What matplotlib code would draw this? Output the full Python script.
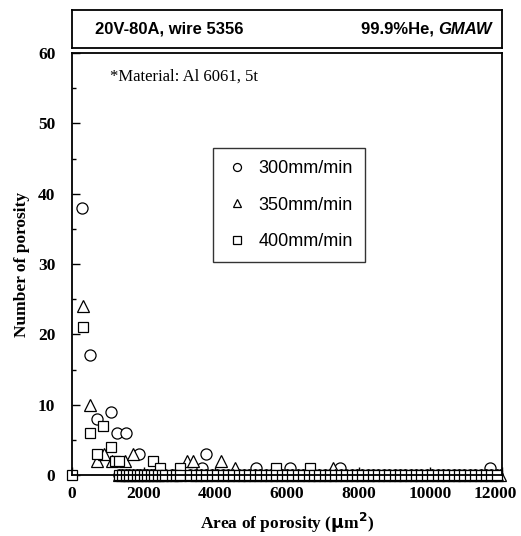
import matplotlib.pyplot as plt
from matplotlib.ticker import MultipleLocator
from matplotlib.transforms import ScaledTranslation

# data (area in um^2, count)
area_300 = [280, 500, 690, 1080, 1265, 1500, 1870, 3740, 3620, 5130, 6085, 7480, 11670]
count_300 = [38, 17, 8, 9, 6, 6, 3, 3, 1, 1, 1, 1, 1]

area_350 = [300, 500, 700, 900, 1107, 1480, 1694, 3200, 3390, 4160, 4550, 7290, 11950]
count_350 = [24, 10, 2, 3, 2, 2, 3, 2, 2, 2, 1, 1, 0]

area_400 = [0, 300, 500, 690, 875, 1080, 1200, 1320, 2250, 2460, 3014, 5690, 6640]
count_400 = [0, 21, 6, 3, 7, 4, 2, 2, 2, 1, 1, 1, 1]

# bins with no porosity (all three speeds sit on the axis)
zero_area = [1300, 1400, 1500, 1600, 1700, 1800, 1900, 2000, 2100, 2200, 2300,
             2400, 2500, 2600, 2800, 2900, 3000, 3300, 3450, 3600, 3750, 3900,
             4050, 4200, 4350, 4500, 4650, 4800, 4950, 5100, 5250, 5400, 5550,
             5700, 5850, 6000, 6150, 6300, 6450, 6600, 6750, 6900, 7050, 7200,
             7350, 7500, 7650, 7800, 7950, 8100, 8250, 8400, 8550, 8700, 8850,
             9000, 9150, 9300, 9450, 9600, 9750, 9900, 10050, 10200, 10350,
             10500, 10650, 10800, 10950, 11100, 11250, 11400, 11550, 11700, 11850]

labels = ['300mm/min', '350mm/min', '400mm/min']
x_ticks = [0, 2000, 4000, 6000, 8000, 10000, 12000]

serif = 'Liberation Serif'
sans = 'Liberation Sans'

fig = plt.figure(figsize=(5.21, 5.36), dpi=100)

# header box
hx = fig.add_axes([72/521, 1 - 48/536, 430/521, 38/536])
hx.set_xticks([])
hx.set_yticks([])
hx.text(0.053, 0.5, '20V-80A, wire 5356', transform=hx.transAxes, va='center',
        ha='left', fontsize=12, fontweight='bold', family=sans)
gm = hx.text(0.977, 0.5, 'GMAW', transform=hx.transAxes, va='center',
             ha='right', fontsize=12, fontweight='bold', style='italic', family=sans)
hx.annotate('99.9%He, ', xy=(0, 0.5), xycoords=gm, va='center', ha='right',
            fontsize=12, fontweight='bold', family=sans)
for s in hx.spines.values():
    s.set_linewidth(1.3)

ax = fig.add_axes([72/521, 61/536, 430/521, 422/536])

mk = dict(linestyle='none', mfc='white', mec='black', mew=0.9, clip_on=False)
zeros = [0] * len(zero_area)
ax.plot(area_300 + zero_area, count_300 + zeros, marker='o', ms=8, label=labels[0], **mk)
ax.plot(area_350 + zero_area, count_350 + zeros, marker='^', ms=8, label=labels[1], **mk)
ax.plot(area_400 + zero_area, count_400 + zeros, marker='s', ms=7.5, label=labels[2], **mk)

ax.set_xlim(0, 12000)
ax.set_ylim(0, 60)
ax.set_xticks(x_ticks)
ax.yaxis.set_major_locator(MultipleLocator(10))
ax.yaxis.set_minor_locator(MultipleLocator(5))
ax.tick_params(direction='in', which='both', top=False, right=False)
ax.tick_params(which='major', length=6, width=1)
ax.tick_params(which='minor', length=3, width=1)
ax.tick_params(axis='x', pad=8)
ax.tick_params(axis='y', pad=12)
for lab in ax.get_xticklabels() + ax.get_yticklabels():
    lab.set_family(serif)
    lab.set_fontweight('bold')
    lab.set_fontsize(12.5)

for s in ax.spines.values():
    s.set_linewidth(1.3)

ax.set_xlabel('Area of porosity ($\\mathbf{\\mu}$m$^\\mathbf{2}$)', family=serif,
              fontweight='bold', fontsize=12.5, labelpad=6)
ax.set_ylabel('Number of porosity', family=serif, fontweight='bold', fontsize=12.5,
              labelpad=6)

ax.text(0.088, 0.945, '*Material: Al 6061, 5t', transform=ax.transAxes,
        family=serif, fontsize=12, va='center')

leg = ax.legend(loc='upper left', bbox_to_anchor=(0.328, 0.775), frameon=True,
                fancybox=False, edgecolor='black', prop={'family': sans, 'size': 13},
                handletextpad=0.5, labelspacing=1.08, borderpad=0.67,
                handlelength=1.33, borderaxespad=0, markerscale=0.72)
leg.get_frame().set_linewidth(1.0)

# nudge the last x tick label inward so it stays on the canvas
last = ax.xaxis.get_major_ticks()[len(x_ticks) - 1].label1
last.set_transform(last.get_transform() + ScaledTranslation(-7/100, 0, fig.dpi_scale_trans))

fig.savefig('out.png', dpi=100)
